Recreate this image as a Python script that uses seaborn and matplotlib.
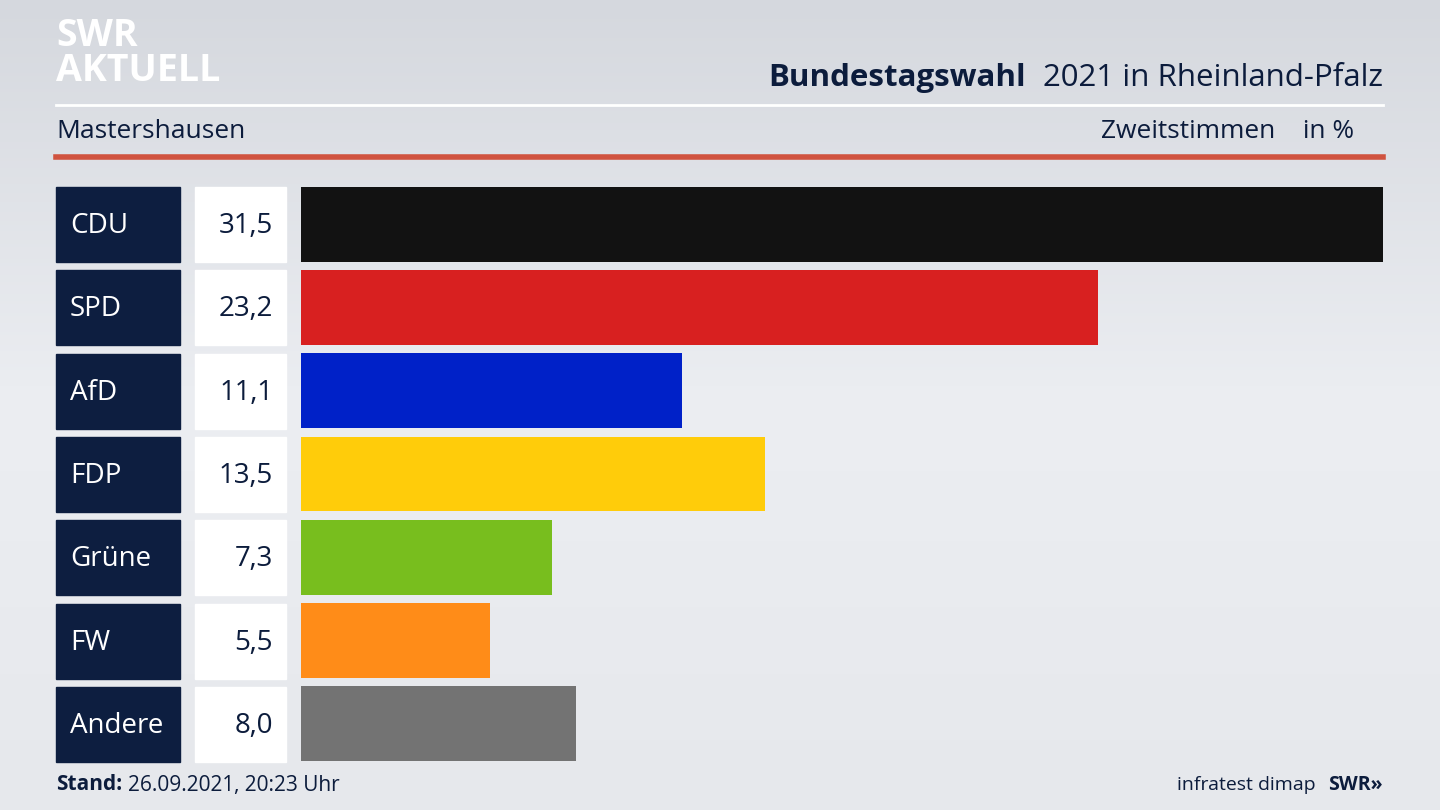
import matplotlib
matplotlib.use("Agg")
import matplotlib.pyplot as plt
import seaborn as sns
import numpy as np
import pandas as pd
from matplotlib.patches import Rectangle
from matplotlib.colors import LinearSegmentedColormap

parties = ["CDU", "SPD", "AfD", "FDP", "Grüne", "FW", "Andere"]
values = [31.5, 23.2, 11.1, 13.5, 7.3, 5.5, 8.0]
colors = ["#121212", "#d82020", "#0021c8", "#ffcc0a", "#78be1e", "#ff8c18", "#737373"]
value_labels = ["31,5", "23,2", "11,1", "13,5", "7,3", "5,5", "8,0"]

plt.rcParams["font.family"] = "Open Sans"
W, H = 1440, 810
fig = plt.figure(figsize=(14.4, 8.1), dpi=100)

bg = fig.add_axes([0, 0, 1, 1])
grad = np.linspace(0, 1, 256).reshape(-1, 1)
cmap = LinearSegmentedColormap.from_list("g", ["#d5d8de", "#eceef2", "#e6e8ec"])
bg.imshow(grad, aspect="auto", cmap=cmap, extent=[0, W, H, 0])
bg.set_xlim(0, W); bg.set_ylim(H, 0); bg.axis("off")

navy = "#0c1c3c"
bg.text(56, 36, "SWR", fontsize=27, fontweight="bold", color="white", va="center")
bg.text(56, 71, "AKTUELL", fontsize=27, fontweight="bold", color="white", va="center")
bg.text(1383, 78, "2021 in Rheinland-Pfalz", fontsize=22.5, color=navy, ha="right", va="center")
bg.text(1026, 78, "Bundestagswahl", fontsize=22.5, fontweight="bold", color=navy, ha="right", va="center")
bg.plot([56, 1383], [105, 105], color="white", lw=2)
bg.text(56, 132, "Mastershausen", fontsize=19, color=navy, va="center")
bg.text(1354, 132, "Zweitstimmen    in %", fontsize=19, color=navy, ha="right", va="center")
bg.plot([56, 1383], [157, 157], color="#d0533f", lw=4)
bg.text(56, 785, "Stand:", fontsize=15, fontweight="bold", color=navy, va="center")
bg.text(128, 785, "26.09.2021, 20:23 Uhr", fontsize=15, color=navy, va="center")
bg.text(1316, 785, "infratest dimap", fontsize=14, color=navy, ha="right", va="center")
bg.text(1383, 785, "SWR»", fontsize=14, fontweight="bold", color=navy, ha="right", va="center")

pitch = 83.3
for i, (p, v) in enumerate(zip(parties, value_labels)):
    y0 = 187 + i * pitch
    bg.add_patch(Rectangle((56, y0), 124, 75, color="#0d1e40"))
    bg.add_patch(Rectangle((195, y0), 91, 75, color="white"))
    bg.text(70, y0 + 39, p, fontsize=20, color="white", va="center")
    bg.text(273, y0 + 39, v, fontsize=20, color=navy, va="center", ha="right")

ax = fig.add_axes([301 / W, 1 - 761 / H, 1082 / W, 574 / H])
df = pd.DataFrame({"party": parties, "value": values})
sns.barplot(data=df, x="value", y="party", hue="party", palette=colors,
            orient="h", width=0.9, saturation=1, legend=False, ax=ax)
ax.set_xlim(0, 31.5)
ax.set_ylim(6.45, -0.45)
ax.axis("off")
ax.patch.set_alpha(0)

fig.savefig("out.png", dpi=100)
